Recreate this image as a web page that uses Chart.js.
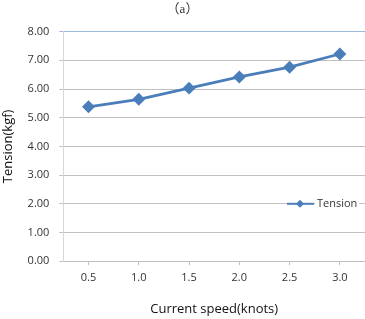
<!DOCTYPE html>
<html lang="en">
<head>
<meta charset="UTF-8">
<title>Tension vs current speed</title>
<script src="https://cdn.jsdelivr.net/npm/chart.js"></script>
<style>
  html, body { margin: 0; padding: 0; background: #fff; overflow: hidden; }
  #wrap { width: 365px; height: 319px; position: relative; }
</style>
</head>
<body>
<div id="wrap"><canvas id="tensionChart"></canvas></div>
<script>
// data
const speeds = ['0.5', '1.0', '1.5', '2.0', '2.5', '3.0'];
const tension = [5.38, 5.64, 6.03, 6.42, 6.76, 7.22];
const yTicks = [0, 1, 2, 3, 4, 5, 6, 7, 8];

const blue = '#4a7ebb';
const gridGrey = '#c0c0c0';
const font = "'Open Sans', 'Liberation Sans', sans-serif";

// legend sits inside the plot, on the 2.00 gridline
const insideLegend = {
    id: 'insideLegend',
    afterDraw(chart) {
        const { ctx, chartArea, scales } = chart;
        const y = scales.y.getPixelForValue(2);
        const x0 = chartArea.right - 78;
        ctx.save();
        ctx.font = '11px ' + font;
        const w = ctx.measureText('Tension').width;
        ctx.fillStyle = '#fff';
        ctx.fillRect(x0 + 28, y - 8, w + 4, 16);
        ctx.strokeStyle = blue;
        ctx.lineWidth = 2;
        ctx.beginPath();
        ctx.moveTo(x0, y);
        ctx.lineTo(x0 + 27, y);
        ctx.stroke();
        ctx.fillStyle = blue;
        ctx.beginPath();
        ctx.moveTo(x0 + 13, y - 4);
        ctx.lineTo(x0 + 17, y);
        ctx.lineTo(x0 + 13, y + 4);
        ctx.lineTo(x0 + 9, y);
        ctx.closePath();
        ctx.fill();
        ctx.fillStyle = '#333';
        ctx.textBaseline = 'middle';
        ctx.fillText('Tension', x0 + 30, y);
        ctx.restore();
    }
};

const ctx = document.getElementById('tensionChart').getContext('2d');
const tensionChart = new Chart(ctx, {
    type: 'line',
    data: {
        labels: speeds,
        datasets: [{
            label: 'Tension',
            data: tension,
            borderColor: blue,
            backgroundColor: blue,
            borderWidth: 2.8,
            pointStyle: 'rectRot',
            pointRadius: 4.5,
            pointHoverRadius: 4.5,
            tension: 0
        }]
    },
    options: {
        responsive: true,
        maintainAspectRatio: false,
        animation: false,
        layout: { autoPadding: false, padding: { left: 0, right: 0, top: 0, bottom: 2 } },
        plugins: {
            legend: { display: false },
            tooltip: { enabled: false },
            title: {
                display: true,
                text: '（a）',
                color: '#333',
                font: { family: "'Liberation Serif', 'Noto Sans CJK SC', serif", size: 13, weight: 'normal' },
                padding: { top: 2, bottom: 14 }
            }
        },
        scales: {
            x: {
                offset: true,
                grid: {
                    offset: false,
                    drawOnChartArea: false,
                    tickLength: 4,
                    color: gridGrey
                },
                border: { color: gridGrey },
                ticks: { color: '#333', font: { family: font, size: 11 }, padding: 6 },
                title: {
                    display: true,
                    text: 'Current speed(knots)',
                    color: '#111',
                    font: { family: font, size: 13 },
                    padding: { top: 11, bottom: 0 }
                }
            },
            y: {
                min: 0,
                max: 8,
                afterBuildTicks(axis) {
                    axis.ticks = yTicks.map(v => ({ value: v }));
                },
                grid: {
                    tickLength: 4,
                    color: ctx => ctx.tick && ctx.tick.value === 8 ? '#9bb7dc' : gridGrey
                },
                border: { color: '#d6d6d6' },
                ticks: {
                    color: '#333',
                    font: { family: font, size: 11 },
                    padding: 10,
                    callback: v => Number(v).toFixed(2)
                },
                title: {
                    display: true,
                    text: 'Tension(kgf)',
                    color: '#111',
                    font: { family: font, size: 13 },
                    padding: { top: 0, bottom: 2 }
                }
            }
        }
    },
    plugins: [insideLegend]
});
</script>
</body>
</html>
